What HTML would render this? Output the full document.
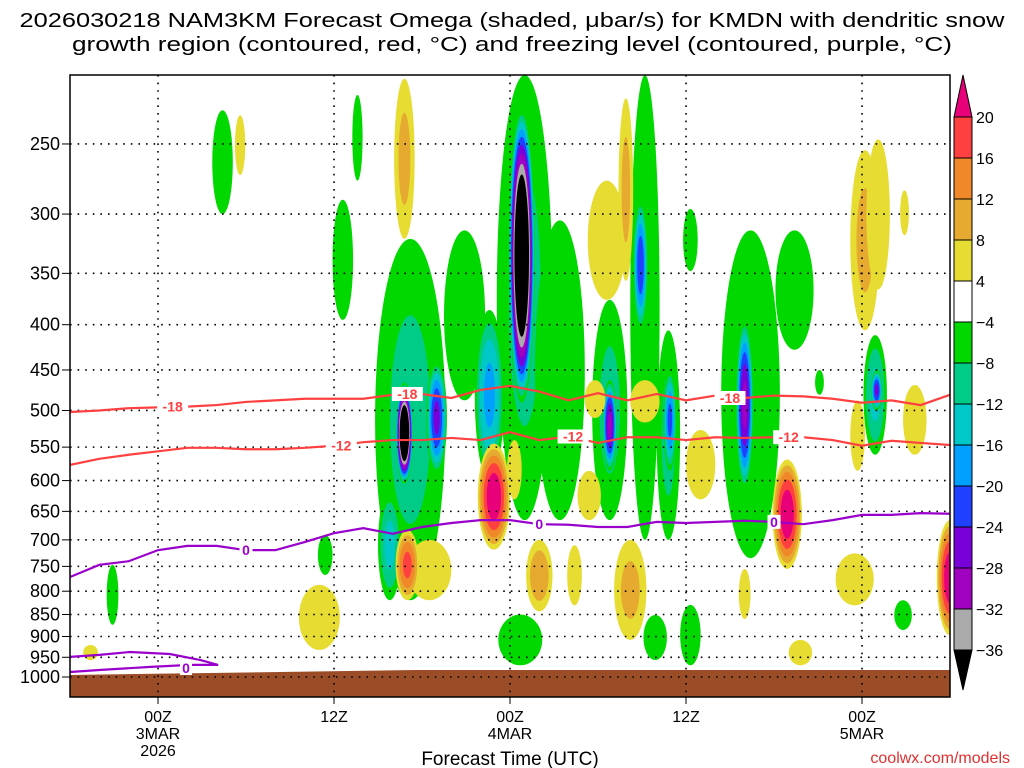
<!DOCTYPE html>
<html><head><meta charset="utf-8"><style>
html,body{margin:0;padding:0;background:#fff;width:1024px;height:768px;overflow:hidden}
svg{display:block;font-family:"Liberation Sans",sans-serif}
</style></head><body>
<svg id="chart" width="1024" height="768">
<defs><clipPath id="plotclip"><rect x="70" y="75" width="880" height="622"/></clipPath></defs>
<g id="title">
<text x="512" y="27" text-anchor="middle" font-size="20" textLength="985" lengthAdjust="spacingAndGlyphs">2026030218 NAM3KM Forecast Omega (shaded, μbar/s) for KMDN with dendritic snow</text>
<text x="512" y="51" text-anchor="middle" font-size="20" textLength="880" lengthAdjust="spacingAndGlyphs">growth region (contoured, red, °C) and freezing level (contoured, purple, °C)</text>
</g>
<g id="shade" clip-path="url(#plotclip)"></g>
<g id="ground"></g>
<g id="grid"></g>
<g id="lines" clip-path="url(#plotclip)"></g>
<g id="labels"></g>
<rect x="70" y="75" width="880" height="622" fill="none" stroke="#000" stroke-width="1.5"/>
<g id="axes"></g>
<g id="cbar"></g>
<text x="510" y="765" text-anchor="middle" font-size="19">Forecast Time (UTC)</text>
<text x="1010" y="763" text-anchor="end" font-size="16" fill="#e03030">coolwx.com/models</text>
</svg>
<script>
// ---- data ----
const pressureTicks = [250,300,350,400,450,500,550,600,650,700,750,800,850,900,950,1000];
const timeTickHours = [6,18,30,42,54];
const timeTickLine1 = ["00Z","12Z","00Z","12Z","00Z"];
const timeTickLine2 = ["3MAR","","4MAR","","5MAR"];
const timeTickLine3 = ["2026","","","",""];
// omega blobs: center hour, half-width hours, top pressure, bottom pressure, peak value
const blobT  = [10.4,11.6,22.8,19.6,18.6,23.2,25,21.8,24.5,23,17.4,17,2.9,31,30.8,26.9,33.4,28.6,28.9,30.3,32,34.4,30.7,36.6,39.2,38.9,37.9,36.8,36.8,42.3,39.2,38.2,35.4,35.8,40.8,40.9,42.3,39.9,43,46.4,46,49.4,48.9,46,51.1,54.2,55.1,54.9,55,53.7,56.9,57.6,53.5,60,56.8,49.8,1.4,22.8];
const blobDT = [0.7,0.35,0.7,0.35,0.7,2.4,0.7,0.8,1.5,0.8,0.5,1.4,0.4,1.9,0.9,1.4,1.7,1,1.1,0.5,0.9,0.5,1.5,1.3,1,0.5,0.5,1.2,0.5,0.5,1,1.1,0.8,0.7,0.8,0.45,0.7,0.8,1,2,0.6,1.3,1,0.4,0.3,1,0.8,0.8,0.4,0.5,0.3,0.8,1.3,0.9,0.6,0.8,0.5,0.6];
const blobPT = [229,232,211,220,289,320,440,615,700,682,691,787,747,209,228,313,305,385,545,540,700,710,850,275,209,289,222,375,462,296,462,700,585,462,406,450,829,851,526,313,395,313,568,755,450,254,247,411,450,487,282,468,725,665,819,908,920,465];
const blobPB = [300,271,320,275,395,819,590,819,819,819,767,932,873,665,490,487,665,600,718,630,843,830,970,375,700,406,357,665,585,348,516,908,665,510,700,585,970,957,630,734,615,427,755,860,480,406,365,561,500,585,317,561,830,897,885,970,957,605];
const blobV  = [-6,5,10,-6,-6,-10,-26,-14,6,18,-6,6,-8,-10,-50,-7,-8,-18,24,6,12,6,-8,7,-8,-24,10,-10,-30,-6,7,10,5,5,-10,-22,-8,-6,6,-8,-30,-7,24,6,-6,10,7,-14,-26,8,6,5,6,24,-6,5,5,-50];
// contour lines (pressure every 2 h from hour 0)
const lineHours = [0,2,4,6,8,10,12,14,16,18,20,22,24,26,28,30,32,34,36,38,40,42,44,46,48,50,52,54,56,58,60];
const isoMinus18 = [502,500,497,496,495,493,489,487,485,485,485,480,479,484,474,469,476,487,478,487,479,487,481,484,481,482,485,490,487,493,480];
const isoMinus12 = [576,567,561,556,551,551,553,553,551,548,543,540,540,537,540,529,540,535,544,536,536,540,536,537,536,536,540,548,541,544,547];
const freezing0  = [771,747,740,719,711,711,719,719,704,688,679,689,677,670,665,665,672,673,677,677,668,670,668,666,668,672,665,656,656,653,654];
const lowFreezeHours = [0,2,4.1,6.8,8.9,10.1,8.2,5.5,2,0];
const lowFreezeP     = [949,944,937,942,957,969,969,974,982,987];
const cbarLevels = [20,16,12,8,4,-4,-8,-12,-16,-20,-24,-28,-32,-36];
const posLevels = [4,8,12,16,20];
const posColors = ["#e6dc32","#e6aa30","#f0882a","#ff4040","#e8007a"];
const negLevels = [4,8,12,16,20,24,28,32,36];
const negColors = ["#00d800","#00cc88","#00c8c8","#00a0ff","#2040ff","#7800d8","#a000c0","#aaaaaa","#000000"];

// ---- scales ----
const X0=70, PX_PER_H=880/60, YB=677, K=384.5;
const xs = h => X0 + h*PX_PER_H;
const ys = p => YB - K*Math.log(1000/p);
const NS="http://www.w3.org/2000/svg";
function mk(tag, parent, attrs){const e=document.createElementNS(NS,tag);for(const k in attrs)e.setAttribute(k,attrs[k]);parent.appendChild(e);return e;}

// ---- shading ----
const shade=document.getElementById('shade');
const order=blobV.map((v,i)=>i);
order.sort((a,b)=>(blobDT[b]*(blobPB[b]-blobPT[b]))-(blobDT[a]*(blobPB[a]-blobPT[a])));
order.forEach(i=>{
  const v=blobV[i], a=Math.abs(v);
  const cx=xs(blobT[i]), rx=blobDT[i]*PX_PER_H;
  const yt=ys(blobPT[i]), yb=ys(blobPB[i]);
  const cy=(yt+yb)/2, ry=(yb-yt)/2;
  const levels = v>0?posLevels:negLevels, colors=v>0?posColors:negColors;
  levels.forEach((L,j)=>{
    if(L>=a) return;
    const s=Math.sqrt(1-(L-4)/(a-4));
    const el=mk('ellipse',shade,{cx:cx,cy:cy,rx:rx*s,ry:ry*s,fill:colors[j]});
    
    
  });
});

// ---- ground ----
const ground=document.getElementById('ground');
const gr=mk('polygon',ground,{points:"70,675 415,670 950,670 950,697 70,697",fill:"#9b4d28"});



// ---- grid & axes ----
const grid=document.getElementById('grid'), axes=document.getElementById('axes');
pressureTicks.forEach(p=>{
  const y=ys(p);
  mk('line',grid,{x1:70,x2:950,y1:y,y2:y,stroke:"#000","stroke-width":1.6,"stroke-dasharray":"1.6 6"});
  mk('line',axes,{x1:62,x2:70,y1:y,y2:y,stroke:"#000"});
  const t=mk('text',axes,{x:60,y:y+6,"text-anchor":"end","font-size":18});
  t.textContent=p;
  
  
});
timeTickHours.forEach((h,i)=>{
  const x=xs(h);
  mk('line',grid,{x1:x,x2:x,y1:75,y2:697,stroke:"#000","stroke-width":1.6,"stroke-dasharray":"1.6 6"});
  mk('line',axes,{x1:x,x2:x,y1:697,y2:704,stroke:"#000"});
  [timeTickLine1[i],timeTickLine2[i],timeTickLine3[i]].forEach((s,k)=>{
    if(!s) return;
    const t=mk('text',axes,{x:x,y:722+k*17,"text-anchor":"middle","font-size":16});
    t.textContent=s;
    
    
  });
});

// ---- lines ----
const lines=document.getElementById('lines'), labels=document.getElementById('labels');
function poly(hs,ps,color,name){
  const pts=hs.map((h,i)=>xs(h)+","+ys(ps[i])).join(" ");
  const el=mk('polyline',lines,{points:pts,fill:"none",stroke:color,"stroke-width":2.2});
  
  
}
poly(lineHours,isoMinus18,"#ff4040","isotherm-minus-18");
poly(lineHours,isoMinus12,"#ff4040","isotherm-minus-12");
poly(lineHours,freezing0,"#9a00cc","freezing-level-0");
poly(lowFreezeHours,lowFreezeP,"#9a00cc","freezing-level-0-low");
function lbl(h,arr,txt,color){
  const idx=Math.round(h/2);
  const x=xs(h), y=ys(arr[idx]);
  const w=txt.length*9+4;
  mk('rect',labels,{x:x-w/2,y:y-7,width:w,height:14,fill:"#fff"});
  const t=mk('text',labels,{x:x,y:y+5,"text-anchor":"middle","font-size":14,"font-weight":"bold",fill:color});
  t.textContent=txt;
  
  
}
lbl(7,isoMinus18,"-18","#ff4040");lbl(23,isoMinus18,"-18","#ff4040");lbl(45,isoMinus18,"-18","#ff4040");
lbl(18.5,isoMinus12,"-12","#ff4040");lbl(34.3,isoMinus12,"-12","#ff4040");lbl(49,isoMinus12,"-12","#ff4040");
lbl(12,freezing0,"0","#9a00cc");lbl(32,freezing0,"0","#9a00cc");lbl(48,freezing0,"0","#9a00cc");
{mk('rect',labels,{x:180,y:661,width:12,height:14,fill:"#fff"});
const t=mk('text',labels,{x:186,y:673,"text-anchor":"middle","font-size":14,"font-weight":"bold",fill:"#9a00cc"});t.textContent="0";

}

// ---- colorbar ----
const cbar=document.getElementById('cbar');
const CB_X=954, CB_W=18, CB_TOP=117, CB_STEP=(650-117)/13;
const bandColors=["#ff4040","#f0882a","#e6aa30","#e6dc32","#ffffff","#00d800","#00cc88","#00c8c8","#00a0ff","#2040ff","#7800d8","#a000c0","#aaaaaa"];
mk('polygon',cbar,{points:`${CB_X},${CB_TOP} ${CB_X+CB_W},${CB_TOP} ${CB_X+CB_W/2},75`,fill:"#e8007a",stroke:"#000"});
bandColors.forEach((c,i)=>{
  const r=mk('rect',cbar,{x:CB_X,y:CB_TOP+i*CB_STEP,width:CB_W,height:CB_STEP,fill:c,stroke:"#000"});
  
  
});
mk('polygon',cbar,{points:`${CB_X},650 ${CB_X+CB_W},650 ${CB_X+CB_W/2},690`,fill:"#000",stroke:"#000"});
cbarLevels.forEach((v,i)=>{
  const t=mk('text',cbar,{x:976,y:CB_TOP+i*CB_STEP+6,"font-size":16});
  t.textContent=v<0?"\u2212"+Math.abs(v):String(v);
  
  
});
</script>
</body></html>
